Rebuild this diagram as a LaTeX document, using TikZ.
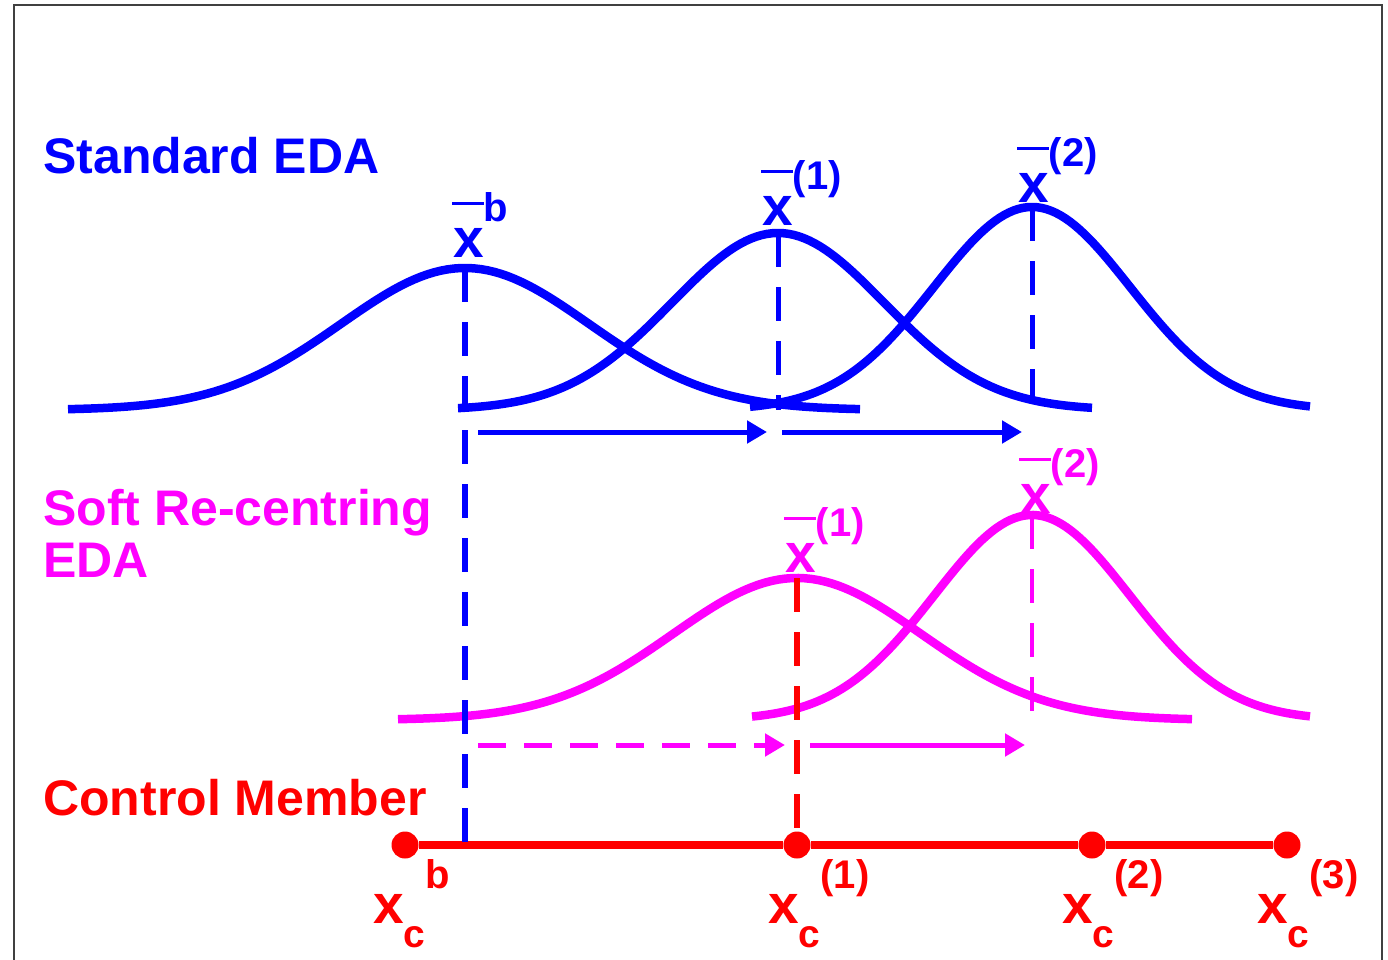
\documentclass[tikz,border=0pt]{standalone}
\usepackage{fontspec}
\setmainfont{Liberation Sans}
\usepackage{xcolor}
\usetikzlibrary{arrows.meta, positioning}
\definecolor{edablue}{RGB}{0,0,255}
\definecolor{edamag}{RGB}{255,0,255}
\definecolor{edared}{RGB}{255,0,0}
\newcommand{\xm}[1]{\rlap{\hspace{-1pt}\raisebox{52pt}{\rule{32pt}{3pt}}}x\raisebox{36pt}{\fontsize{40}{40}\selectfont #1}}
\newcommand{\xc}[1]{x\raisebox{-24pt}{\fontsize{39}{39}\selectfont c}\raisebox{35pt}{\fontsize{40}{40}\selectfont #1}}

\begin{document}
\begin{tikzpicture}[x=1pt, y=-1pt, >={Triangle[length=20pt,width=22pt]}, font=\bfseries,
    curve/.style={line width=8.5pt},
    vdash/.style={line width=6pt, dash pattern=on 34pt off 20pt},
    shiftarrow/.style={->, line width=5pt},
    lbl/.style={inner sep=0pt, anchor=base west, font=\bfseries\fontsize{50}{52}\selectfont},
    mean/.style={inner sep=0pt, anchor=base west, font=\bfseries\fontsize{55}{55}\selectfont},
    dot/.style={circle, fill=edared, inner sep=0pt, minimum size=27pt}]
    \useasboundingbox (0,0) rectangle (1388,959);
    \draw[line width=2.5pt, black!75] (14,5) rectangle (1382,990);

    \coordinate (pb) at (465,268);
    \coordinate (p1) at (778,233);
    \coordinate (p2) at (1032,207);
    \coordinate (q1) at (797,578);
    \coordinate (q2) at (1032,515);
    \coordinate (b1) at (778,410);
    \coordinate (b2) at (1032,405);
    \coordinate (m2) at (1032,718);

    \draw[curve, edablue] plot[domain=68:860, samples=120] (\x, {410-142*exp(-0.5*((\x-465)/124)^2)});
    \draw[curve, edablue] plot[domain=458:1092, samples=120] (\x, {410-177*exp(-0.5*((\x-778)/106)^2)});
    \draw[curve, edablue] plot[domain=750:1310, samples=120] (\x, {410-203*exp(-0.5*((\x-1032)/98)^2)});
    \draw[curve, edamag] plot[domain=398:1192, samples=120] (\x, {720-142*exp(-0.5*((\x-797)/124)^2)});
    \draw[curve, edamag] plot[domain=752:1310, samples=120] (\x, {720-205*exp(-0.5*((\x-1032)/98)^2)});

    \node[dot] (cb) at (405,845) {};
    \node[dot] (c1) at (797,845) {};
    \node[dot] (c2) at (1092,845) {};
    \node[dot] (c3) at (1287,845) {};
    \draw[edared, line width=8pt] (cb) -- (c1) -- (c2) -- (c3);

    \draw[vdash, edablue] (pb) -- (pb |- cb);
    \draw[vdash, edablue, line width=5pt] (p1) -- (b1);
    \draw[vdash, edablue, line width=5pt] (p2) -- (b2);
    \draw[vdash, edared] (q1) -- (c1);
    \draw[vdash, edamag, line width=4pt] (q2) -- (m2);

    \coordinate (sa0) at (478,432);
    \coordinate (sa1) at (767,432);
    \coordinate (sa2) at (782,432);
    \coordinate (sa3) at (1022,432);
    \coordinate (ma0) at (478,745);
    \coordinate (ma1) at (785,745);
    \coordinate (ma2) at (810,745);
    \coordinate (ma3) at (1025,745);
    \draw[shiftarrow, edablue] (sa0) -- (sa1);
    \draw[shiftarrow, edablue] (sa2) -- (sa3);
    \draw[shiftarrow, edamag, dash pattern=on 28pt off 18pt] (ma0) -- (ma1);
    \draw[shiftarrow, edamag] (ma2) -- (ma3);

    \node[lbl, text=edablue] (std) at (43,173) {Standard EDA};
    \node[lbl, text=edamag, align=left] (soft) at (43,577) {Soft Re-centring\\EDA};
    \node[lbl, text=edared] (ctrl) at (43,815) {Control Member};

    \node[mean, text=edablue] (xb) at (453,257) {\xm{b}};
    \node[mean, text=edablue] (x1) at (762,225) {\xm{(1)}};
    \node[mean, text=edablue] (x2) at (1018,202) {\xm{(2)}};
    \node[mean, text=edamag] (y1) at (785,572) {\xm{(1)}};
    \node[mean, text=edamag] (y2) at (1020,513) {\xm{(2)}};

    \node[mean, text=edared] (lb) at (373,923) {\xc{b}};
    \node[mean, text=edared] (l1) at (768,923) {\xc{(1)}};
    \node[mean, text=edared] (l2) at (1062,923) {\xc{(2)}};
    \node[mean, text=edared] (l3) at (1257,923) {\xc{(3)}};
\end{tikzpicture}
\end{document}
